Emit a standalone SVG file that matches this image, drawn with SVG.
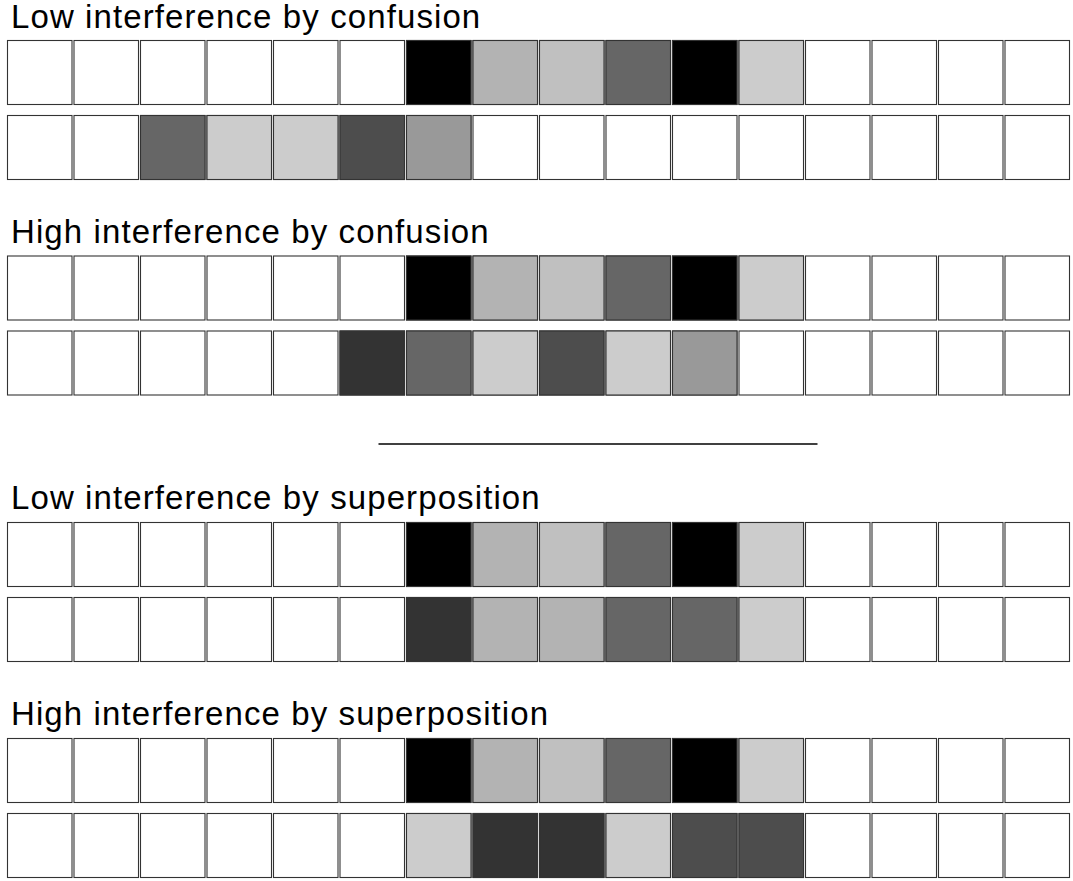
<svg xmlns="http://www.w3.org/2000/svg" width="1073" height="881" viewBox="0 0 1073 881">
<style>
rect{stroke:#333;stroke-width:1.1}
.w{fill:#fff}.k{fill:#000}.g3{fill:#333}.g4{fill:#4d4d4d}.g6{fill:#666}.g9{fill:#999}.gb{fill:#b3b3b3}.gc{fill:#c0c0c0}.gd{fill:#ccc}
text{font-family:"Liberation Sans",Arial,sans-serif;font-size:33px;letter-spacing:1.1px;fill:#000}
</style>
<defs>
<g id="blank">
<rect class="w" x="7.5" y="0" width="64.5" height="64"/><rect class="w" x="74" y="0" width="64.5" height="64"/><rect class="w" x="140.5" y="0" width="64.5" height="64"/><rect class="w" x="207" y="0" width="64.5" height="64"/><rect class="w" x="273.5" y="0" width="64.5" height="64"/><rect class="w" x="340" y="0" width="64.5" height="64"/><rect class="w" x="406.5" y="0" width="64.5" height="64"/><rect class="w" x="473" y="0" width="64.5" height="64"/><rect class="w" x="539.5" y="0" width="64.5" height="64"/><rect class="w" x="606" y="0" width="64.5" height="64"/><rect class="w" x="672.5" y="0" width="64.5" height="64"/><rect class="w" x="739" y="0" width="64.5" height="64"/><rect class="w" x="805.5" y="0" width="64.5" height="64"/><rect class="w" x="872" y="0" width="64.5" height="64"/><rect class="w" x="938.5" y="0" width="64.5" height="64"/><rect class="w" x="1005" y="0" width="64.5" height="64"/>
</g>
<g id="target">
<use href="#blank"/>
<rect class="k" x="406.5" y="0" width="64.5" height="64"/><rect class="gb" x="473" y="0" width="64.5" height="64"/><rect class="gc" x="539.5" y="0" width="64.5" height="64"/><rect class="g6" x="606" y="0" width="64.5" height="64"/><rect class="k" x="672.5" y="0" width="64.5" height="64"/><rect class="gd" x="739" y="0" width="64.5" height="64"/>
</g>
</defs>

<g id="low-confusion">
<text x="11" y="27.5">Low interference by confusion</text>
<use href="#target" y="40.5"/>
<g transform="translate(0,115.5)">
<use href="#blank"/>
<rect class="g6" x="140.5" y="0" width="64.5" height="64"/><rect class="gd" x="207" y="0" width="64.5" height="64"/><rect class="gd" x="273.5" y="0" width="64.5" height="64"/><rect class="g4" x="340" y="0" width="64.5" height="64"/><rect class="g9" x="406.5" y="0" width="64.5" height="64"/>
</g>
</g>

<g id="high-confusion">
<text x="11" y="243">High interference by confusion</text>
<use href="#target" y="256"/>
<g transform="translate(0,331)">
<use href="#blank"/>
<rect class="g3" x="340" y="0" width="64.5" height="64"/><rect class="g6" x="406.5" y="0" width="64.5" height="64"/><rect class="gd" x="473" y="0" width="64.5" height="64"/><rect class="g4" x="539.5" y="0" width="64.5" height="64"/><rect class="gd" x="606" y="0" width="64.5" height="64"/><rect class="g9" x="672.5" y="0" width="64.5" height="64"/>
</g>
</g>

<g id="separator">
<line x1="378.5" y1="444" x2="817.5" y2="444" stroke="#000" stroke-width="1.4"/>
</g>

<g id="low-superposition">
<text x="11" y="509">Low interference by superposition</text>
<use href="#target" y="522.5"/>
<g transform="translate(0,597.5)">
<use href="#blank"/>
<rect class="g3" x="406.5" y="0" width="64.5" height="64"/><rect class="gb" x="473" y="0" width="64.5" height="64"/><rect class="gb" x="539.5" y="0" width="64.5" height="64"/><rect class="g6" x="606" y="0" width="64.5" height="64"/><rect class="g6" x="672.5" y="0" width="64.5" height="64"/><rect class="gd" x="739" y="0" width="64.5" height="64"/>
</g>
</g>

<g id="high-superposition">
<text x="11" y="725">High interference by superposition</text>
<use href="#target" y="738.5"/>
<g transform="translate(0,813.5)">
<use href="#blank"/>
<rect class="gd" x="406.5" y="0" width="64.5" height="64"/><rect class="g3" x="473" y="0" width="64.5" height="64"/><rect class="g3" x="539.5" y="0" width="64.5" height="64"/><rect class="gd" x="606" y="0" width="64.5" height="64"/><rect class="g4" x="672.5" y="0" width="64.5" height="64"/><rect class="g4" x="739" y="0" width="64.5" height="64"/>
</g>
</g>
</svg>
